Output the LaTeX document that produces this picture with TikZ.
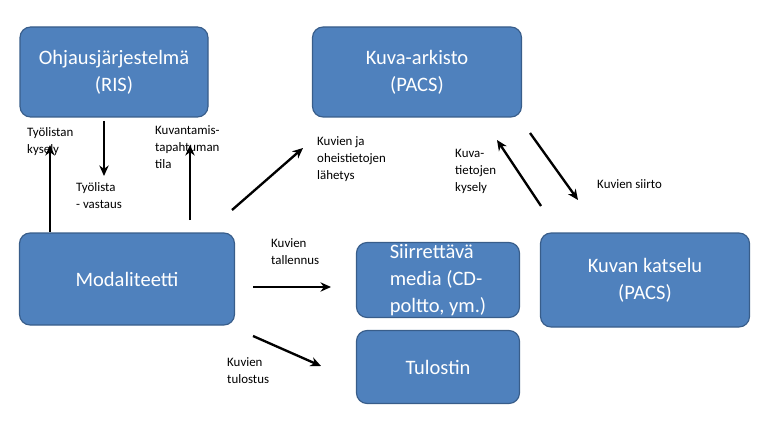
\documentclass[tikz,border=0pt]{standalone}
\usepackage{fontspec}
\setmainfont{Carlito}
\usetikzlibrary{arrows.meta}
\definecolor{boxfill}{HTML}{4F81BD}
\definecolor{boxline}{HTML}{385D8A}
\tikzset{sysbox/.style={draw=boxline,fill=boxfill,rounded corners=9pt,line width=1pt,
  text=white,align=center,font=\fontsize{17.5}{23}\selectfont,inner sep=0pt},
  flow/.style={-{Stealth[length=9pt,width=8pt]},line width=2pt},
  note/.style={align=left,font=\fontsize{11}{14.5}\selectfont,inner sep=0pt}}
\begin{document}
\begin{tikzpicture}[x=0.03cm,y=-0.03cm]
	\useasboundingbox (0,0) rectangle (769,427);
	\node[sysbox,minimum width=188*0.03cm,minimum height=90*0.03cm] (RIS) at (114,72) {Ohjausjärjestelmä\\(RIS)};
	\node[sysbox,minimum width=209*0.03cm,minimum height=90*0.03cm] (PACS) at (417,72) {Kuva-arkisto\\(PACS)};
	\node[sysbox,minimum width=215*0.03cm,minimum height=92*0.03cm] (Mod) at (127,279) {Modaliteetti};
	\node[sysbox,minimum width=163*0.03cm,minimum height=75*0.03cm,align=left] (Media) at (438,280) {Siirrettävä\\media (CD-\\poltto, ym.)};
	\node[sysbox,minimum width=163*0.03cm,minimum height=73*0.03cm] (Print) at (438,367) {Tulostin};
	\node[sysbox,minimum width=209*0.03cm,minimum height=94*0.03cm] (View) at (645,280) {Kuvan katselu\\(PACS)};
	%
	\coordinate (a1) at (50,232); \coordinate (a2) at (50,145);
	\coordinate (b1) at (104,121); \coordinate (b2) at (104,176);
	\coordinate (c1) at (190,220); \coordinate (c2) at (190,145);
	\coordinate (d1) at (232,210); \coordinate (d2) at (303,148);
	\coordinate (e1) at (541,206); \coordinate (e2) at (497,140);
	\coordinate (f1) at (530,133); \coordinate (f2) at (578,200);
	\coordinate (g1) at (253,287); \coordinate (g2) at (331,287);
	\coordinate (h1) at (253,336); \coordinate (h2) at (321,366);
	\draw[flow] (a1) -- (a2);
	\draw[flow] (b1) -- (b2);
	\draw[flow] (c1) -- (c2);
	\draw[flow] (d1) -- (d2);
	\draw[flow] (e1) -- (e2);
	\draw[flow] (f1) -- (f2);
	\draw[flow] (g1) -- (g2);
	\draw[flow] (h1) -- (h2);
	%
	\node[note,anchor=north west] (n1) at (27,127) {Työlistan\\kysely};
	\node[note,anchor=north west] (n2) at (76,182) {Työlista\\- vastaus};
	\node[note,anchor=north west] (n3) at (155,125) {Kuvantamis-\\tapahtuman\\tila};
	\node[note,anchor=north west] (n4) at (317,136) {Kuvien ja\\oheistietojen\\lähetys};
	\node[note,anchor=north west] (n5) at (455,149) {Kuva-\\tietojen\\kysely};
	\node[note,anchor=north west] (n6) at (597,179) {Kuvien siirto};
	\node[note,anchor=north west] (n7) at (271,238) {Kuvien\\tallennus};
	\node[note,anchor=north west] (n8) at (227,357) {Kuvien\\tulostus};
\end{tikzpicture}
\end{document}
